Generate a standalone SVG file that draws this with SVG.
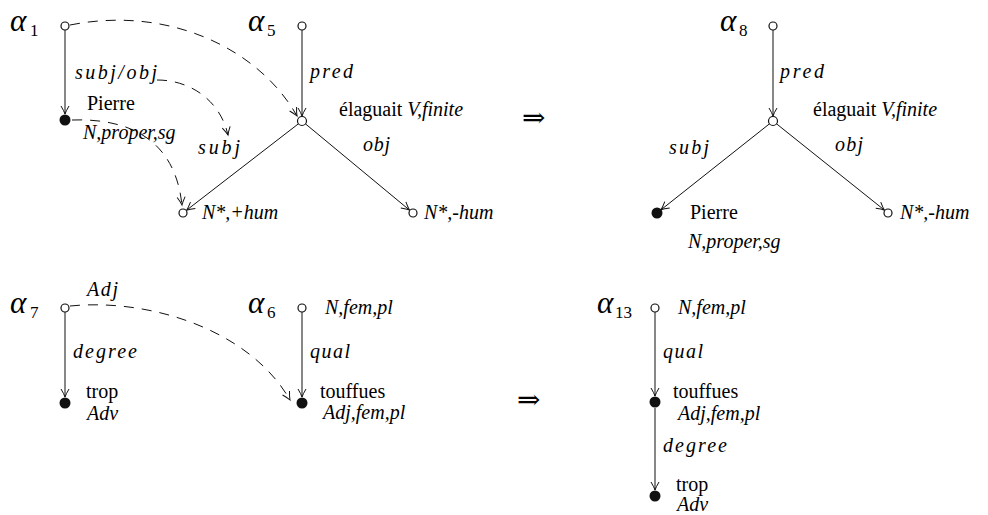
<svg xmlns="http://www.w3.org/2000/svg" width="988" height="515" viewBox="0 0 988 515">
<style>
text { font-family: "Liberation Serif", serif; font-size: 20px; fill: #000; }
.it { font-style: italic; }
.al { font-style: italic; font-size: 31px; }
.sub { font-size: 17px; }
.arr { font-family: "DejaVu Serif", serif; font-size: 28px; }
.e { stroke: #111; stroke-width: 1; fill: none; marker-end: url(#ah); }
.d { stroke-dasharray: 10 8; }
.o { fill: #fff; stroke: #111; stroke-width: 1.2; }
.f { fill: #111; }
</style>
<defs>
<marker id="ah" viewBox="-10 -6 12 12" refX="0" refY="0" markerWidth="12" markerHeight="12" markerUnits="userSpaceOnUse" orient="auto">
<path d="M -8 -4 Q -3 -1 0 0 Q -3 1 -8 4" fill="none" stroke="#111" stroke-width="1"/>
</marker>
</defs>

<g id="connectors">
<line class="e" x1="65" y1="30" x2="65" y2="114"/>
<line class="e" x1="302" y1="30" x2="302" y2="116"/>
<line class="e" x1="298.4" y1="123.8" x2="186.6" y2="210.2"/>
<line class="e" x1="305.5" y1="123.9" x2="409.5" y2="210.1"/>
<path class="e d" d="M 70 25 C 170 5, 260 50, 297 116"/>
<path class="e d" d="M 157 80 C 190 80, 220 100, 228 135"/>
<path class="e d" d="M 72 120 C 130 118, 175 140, 182 205"/>
<line class="e" x1="773" y1="30" x2="773" y2="116"/>
<line class="e" x1="769.5" y1="123.8" x2="661" y2="209.8"/>
<line class="e" x1="776.5" y1="123.8" x2="884.5" y2="210.2"/>
<line class="e" x1="65" y1="312" x2="65" y2="397"/>
<line class="e" x1="302" y1="312" x2="302" y2="397"/>
<path class="e d" d="M 70 306 C 150 298, 250 330, 290 400"/>
<line class="e" x1="655" y1="312" x2="655" y2="396"/>
<line class="e" x1="655" y1="408" x2="655" y2="490"/>
</g>

<g id="alpha1">
<circle class="o" cx="65" cy="26" r="4"/>
<text class="al" x="10" y="31">α</text><text class="sub" x="30" y="36">1</text>
<text class="it" x="75" y="79" textLength="82">subj/obj</text>
</g>
<g id="pierre1">
<circle class="f" cx="65" cy="120" r="5.5"/>
<text x="87" y="110">Pierre</text>
<text class="it" x="83" y="139">N,proper,sg</text>
</g>
<g id="alpha5">
<circle class="o" cx="302" cy="26" r="4"/>
<text class="al" x="248" y="31">α</text><text class="sub" x="267" y="36">5</text>
<text class="it" x="310" y="78" textLength="43">pred</text>
</g>
<g id="elaguait1">
<circle class="o" cx="302" cy="121" r="4.5"/>
<text x="339" y="116">élaguait <tspan class="it">V,finite</tspan></text>
<text class="it" x="198" y="154" textLength="42">subj</text>
<text class="it" x="363" y="151" textLength="27">obj</text>
</g>
<g id="nhum1">
<circle class="o" cx="183" cy="213" r="4"/>
<text class="it" x="202" y="219">N*,+hum</text>
</g>
<g id="nmhum1">
<circle class="o" cx="413" cy="213" r="4"/>
<text class="it" x="424" y="219">N*,-hum</text>
</g>

<text class="arr" x="522" y="127">⇒</text>

<g id="alpha8">
<circle class="o" cx="773" cy="26" r="4"/>
<text class="al" x="720" y="31">α</text><text class="sub" x="739" y="36">8</text>
<text class="it" x="780" y="78" textLength="44">pred</text>
</g>
<g id="elaguait2">
<circle class="o" cx="773" cy="121" r="4.5"/>
<text x="813" y="116">élaguait <tspan class="it">V,finite</tspan></text>
<text class="it" x="669" y="154" textLength="40">subj</text>
<text class="it" x="835" y="151" textLength="28">obj</text>
</g>
<g id="pierre2">
<circle class="f" cx="657" cy="213" r="5.5"/>
<text x="690" y="219">Pierre</text>
<text class="it" x="688" y="248">N,proper,sg</text>
</g>
<g id="nmhum2">
<circle class="o" cx="888" cy="213" r="4"/>
<text class="it" x="900" y="219">N*,-hum</text>
</g>

<g id="alpha7">
<circle class="o" cx="65" cy="308" r="4"/>
<text class="al" x="10" y="313">α</text><text class="sub" x="30" y="318">7</text>
<text class="it" x="87" y="296" textLength="31">Adj</text>
<text class="it" x="73" y="358" textLength="64">degree</text>
</g>
<g id="trop1">
<circle class="f" cx="65" cy="403" r="5.5"/>
<text x="86" y="398">trop</text>
<text class="it" x="87" y="420">Adv</text>
</g>
<g id="alpha6">
<circle class="o" cx="302" cy="308" r="4"/>
<text class="al" x="248" y="313">α</text><text class="sub" x="267" y="318">6</text>
<text class="it" x="325" y="314">N,fem,pl</text>
<text class="it" x="310" y="358" textLength="40">qual</text>
</g>
<g id="touffues1">
<circle class="f" cx="302" cy="403" r="5.5"/>
<text x="320" y="398">touffues</text>
<text class="it" x="323" y="419">Adj,fem,pl</text>
</g>

<text class="arr" x="517" y="409">⇒</text>

<g id="alpha13">
<circle class="o" cx="655" cy="308" r="4"/>
<text class="al" x="597" y="313">α</text><text class="sub" x="615" y="318">13</text>
<text class="it" x="678" y="314">N,fem,pl</text>
<text class="it" x="663" y="358" textLength="40">qual</text>
</g>
<g id="touffues2">
<circle class="f" cx="655" cy="402" r="5.5"/>
<text x="673" y="398">touffues</text>
<text class="it" x="678" y="420">Adj,fem,pl</text>
<text class="it" x="663" y="452" textLength="64">degree</text>
</g>
<g id="trop2">
<circle class="f" cx="655" cy="496" r="5.5"/>
<text x="676" y="491">trop</text>
<text class="it" x="677" y="511">Adv</text>
</g>
</svg>
